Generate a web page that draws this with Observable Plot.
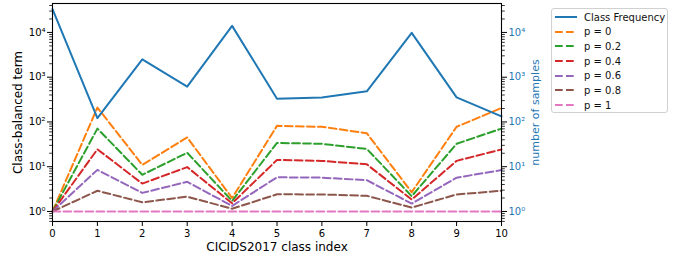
<!DOCTYPE html>
<html>
<head>
<meta charset="utf-8">
<script src="https://cdn.jsdelivr.net/npm/d3@7"></script>
<script src="https://cdn.jsdelivr.net/npm/@observablehq/plot@0.6"></script>
<style>
  html, body { margin: 0; padding: 0; background: #fff; }
  #wrap { position: relative; width: 689px; height: 261px; font-family: "DejaVu Sans", sans-serif; }
  #legend { position: absolute; left: 551px; top: 8px; width: 117px; height: 105px;
            border: 1px solid #d0d0d0; border-radius: 3px; background: #fff; box-sizing: border-box; }
  .row { position: absolute; left: 3px; height: 14px; display: flex; align-items: center; font-size: 10px; color: #111; }
  .row svg { margin-right: 6px; }
</style>
</head>
<body>
<div id="wrap"></div>
<script>
const classIndex = [0, 1, 2, 3, 4, 5, 6, 7, 8, 9, 10];
const classFrequency = [33000, 122, 2500, 616, 14000, 331, 350, 484, 9770, 355, 133];
const p0  = [1, 210, 11, 45, 2.0, 82, 78, 56, 2.7, 78, 205];
const p02 = [1, 71, 6.6, 20.5, 1.72, 34, 32.5, 25, 2.2, 32.5, 71];
const p04 = [1, 24.5, 4.2, 9.8, 1.52, 14.2, 13.5, 11.3, 1.85, 13.5, 24.3];
const p06 = [1, 8.5, 2.6, 4.6, 1.33, 5.8, 5.7, 5.0, 1.5, 5.7, 8.4];
const p08 = [1, 2.9, 1.6, 2.14, 1.15, 2.42, 2.4, 2.24, 1.22, 2.4, 2.9];
const p1  = [1, 1, 1, 1, 1, 1, 1, 1, 1, 1, 1];

const seriesNames = ["p = 0", "p = 0.2", "p = 0.4", "p = 0.6", "p = 0.8", "p = 1"];
const seriesValues = [p0, p02, p04, p06, p08, p1];
const seriesColors = ["#ff7f0e", "#2ca02c", "#d62728", "#9467bd", "#8c564b", "#e377c2"];
const freqName = "Class Frequency";
const freqColor = "#1f77b4";

const majorTicks = [1, 10, 100, 1000, 10000];
const minorTicks = [];
for (let e = -1; e <= 4; e++) for (let m = 2; m <= 9; m++) {
  const v = m * Math.pow(10, e);
  if (v >= 0.6 && v <= 44000) minorTicks.push(v);
}
const sup = {"0":"⁰","1":"¹","2":"²","3":"³","4":"⁴","-":"⁻"};
const fmt = v => "10" + String(Math.round(Math.log10(v))).split("").map(c => sup[c]).join("");

const rows = [];
seriesValues.forEach((vals, s) => vals.forEach((v, i) => rows.push({series: seriesNames[s], x: classIndex[i], y: v})));
const freqRows = classFrequency.map((v, i) => ({x: classIndex[i], y: v}));

const dash = "7.7,3.3";
const marks = [];
seriesNames.forEach((name, s) => {
  marks.push(Plot.line(rows.filter(d => d.series === name), {x: "x", y: "y", stroke: seriesColors[s], strokeWidth: 2, strokeDasharray: dash}));
});
marks.push(Plot.line(freqRows, {x: "x", y: "y", stroke: freqColor, strokeWidth: 2}));
marks.push(
  Plot.axisX(classIndex, {tickSize: 5, tickPadding: 3, tickFormat: d => String(d), label: null, fontSize: 10}),
  Plot.axisY(majorTicks, {anchor: "left", tickSize: 5, tickPadding: 2, tickFormat: fmt, label: null, fontSize: 10}),
  Plot.axisY(minorTicks, {anchor: "left", tickSize: 2.8, tickFormat: null, label: null, strokeWidth: 0.8}),
  Plot.axisY(majorTicks, {anchor: "right", tickSize: 5, tickPadding: 2, tickFormat: fmt, label: null, fontSize: 10, stroke: "black", fill: freqColor}),
  Plot.axisY(minorTicks, {anchor: "right", tickSize: 2.8, tickFormat: null, label: null, strokeWidth: 0.8, stroke: "black"}),
  Plot.frame({stroke: "black", strokeWidth: 1.1}),
  Plot.text(["CICIDS2017 class index"], {frameAnchor: "bottom", dy: 26, lineAnchor: "middle", textAnchor: "middle", fontSize: 12}),
  Plot.text(["Class-balanced term"], {frameAnchor: "left", dx: -34, rotate: -90, lineAnchor: "middle", textAnchor: "middle", fontSize: 12}),
  Plot.text(["number of samples"], {frameAnchor: "right", dx: 34, rotate: -90, lineAnchor: "middle", textAnchor: "middle", fontSize: 11, fill: freqColor})
);

const chart = Plot.plot({
  width: 689,
  height: 261,
  marginLeft: 52,
  marginRight: 188,
  marginTop: 3,
  marginBottom: 40,
  style: {fontFamily: "DejaVu Sans, sans-serif", fontSize: "10px", color: "black", background: "white"},
  x: {domain: [0, 10]},
  y: {type: "log", domain: [0.597, 44300]},
  marks
});
const wrap = document.getElementById("wrap");
wrap.appendChild(chart);

const legend = document.createElement("div");
legend.id = "legend";
const entries = [{name: freqName, color: freqColor, dashed: false}]
  .concat(seriesNames.map((n, i) => ({name: n, color: seriesColors[i], dashed: true})));
entries.forEach((e, i) => {
  const r = document.createElement("div");
  r.className = "row";
  r.style.top = (1 + i * 14.67) + "px";
  r.innerHTML = `<svg width="23" height="4"><line x1="0" x2="22" y1="2" y2="2" stroke="${e.color}" stroke-width="2" ${e.dashed ? 'stroke-dasharray="7.7,3.3"' : ''}/></svg><span>${e.name}</span>`;
  legend.appendChild(r);
});
wrap.appendChild(legend);
</script>
</body>
</html>
